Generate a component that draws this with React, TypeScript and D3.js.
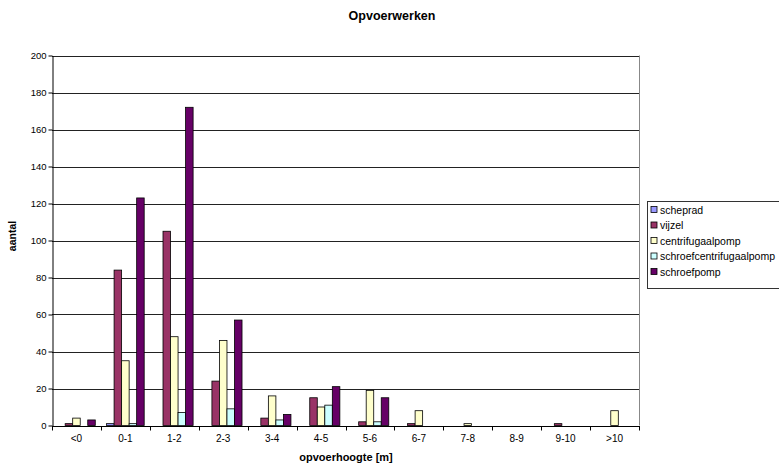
import { useRef, useEffect } from "react";
import * as d3 from "d3";

const categories = ["<0", "0-1", "1-2", "2-3", "3-4", "4-5", "5-6", "6-7", "7-8", "8-9", "9-10", ">10"];
const seriesNames = ["scheprad", "vijzel", "centrifugaalpomp", "schroefcentrifugaalpomp", "schroefpomp"];
const scheprad = [0, 1, 0, 0, 0, 0, 0, 0, 0, 0, 0, 0];
const vijzel = [1, 84, 105, 24, 4, 15, 2, 1, 0, 0, 1, 0];
const centrifugaalpomp = [4, 35, 48, 46, 16, 10, 19, 8, 1, 0, 0, 8];
const schroefcentrifugaalpomp = [0, 1, 7, 9, 3, 11, 2, 0, 0, 0, 0, 0];
const schroefpomp = [3, 123, 172, 57, 6, 21, 15, 0, 0, 0, 0, 0];
const colors = ["#9999ff", "#993366", "#ffffcc", "#ccffff", "#660066"];
const yTicks = [0, 20, 40, 60, 80, 100, 120, 140, 160, 180, 200];

const W = 779;
const H = 468;
const margin = { top: 55.5, right: 140, bottom: 42, left: 52 };

const App = () => {
  const ref = useRef<SVGSVGElement>(null);

  useEffect(() => {
    if (!ref.current) return;
    const svg = d3.select(ref.current);
    svg.selectAll("*").remove();

    const series = [scheprad, vijzel, centrifugaalpomp, schroefcentrifugaalpomp, schroefpomp];
    const font = "Liberation Sans, Arial, sans-serif";

    const x = d3
      .scaleBand()
      .domain(categories)
      .range([margin.left, W - margin.right])
      .padding(0);
    const y = d3
      .scaleLinear()
      .domain([0, 200])
      .range([H - margin.bottom - 0.5, margin.top]);

    // excel gap width 150%: 5 bars + 1.5 bar widths of gap
    const barW = x.bandwidth() / 6.5;
    const offset = barW * 0.75;

    // gridlines
    svg
      .append("g")
      .selectAll("line")
      .data(yTicks.slice(1))
      .enter()
      .append("line")
      .attr("x1", margin.left)
      .attr("x2", W - margin.right)
      .attr("y1", (d) => Math.round(y(d)) + 0.5)
      .attr("y2", (d) => Math.round(y(d)) + 0.5)
      .attr("stroke", "#222");

    // right border
    svg
      .append("line")
      .attr("x1", W - margin.right + 0.5)
      .attr("x2", W - margin.right + 0.5)
      .attr("y1", y(200))
      .attr("y2", y(0))
      .attr("stroke", "#888");

    // bars
    series.forEach((vals, si) => {
      const pts = vals.map((v, i) => ({ v, c: categories[i] })).filter((d) => d.v > 0);
      svg
        .append("g")
        .selectAll("rect")
        .data(pts)
        .enter()
        .append("rect")
        .attr("x", (d) => x(d.c)! + offset + si * barW)
        .attr("y", (d) => y(d.v))
        .attr("width", barW)
        .attr("height", (d) => y(0) - y(d.v))
        .attr("fill", colors[si])
        .attr("stroke", "#000")
        .attr("stroke-width", 0.8);
    });

    // y axis
    const yAxis = svg
      .append("g")
      .attr("transform", `translate(${margin.left + 0.5},0)`)
      .call(d3.axisLeft(y).tickValues(yTicks).tickSize(4).tickSizeOuter(0));
    yAxis.select(".domain").attr("stroke", "#000");
    yAxis
      .selectAll("text")
      .attr("font-family", font)
      .attr("font-size", 9.5)
      .attr("fill", "#000")
      .attr("x", -6);

    // x axis, ticks at category boundaries
    const xAxis = svg.append("g").attr("transform", `translate(0,${Math.round(y(0)) + 0.5})`);
    xAxis
      .append("line")
      .attr("x1", margin.left)
      .attr("x2", W - margin.right + 1)
      .attr("stroke", "#000");
    xAxis
      .selectAll("line.tk")
      .data(d3.range(categories.length + 1))
      .enter()
      .append("line")
      .attr("class", "tk")
      .attr("x1", (i) => Math.round(margin.left + i * x.bandwidth()) + 0.5)
      .attr("x2", (i) => Math.round(margin.left + i * x.bandwidth()) + 0.5)
      .attr("y1", 0)
      .attr("y2", 4)
      .attr("stroke", "#000");
    xAxis
      .selectAll("text")
      .data(categories)
      .enter()
      .append("text")
      .attr("x", (d) => x(d)! + x.bandwidth() / 2)
      .attr("y", 15)
      .attr("text-anchor", "middle")
      .attr("font-family", font)
      .attr("font-size", 10)
      .text((d) => d);

    // title
    svg
      .append("text")
      .attr("x", 392)
      .attr("y", 20)
      .attr("text-anchor", "middle")
      .attr("font-family", font)
      .attr("font-size", 12.5)
      .attr("font-weight", "bold")
      .text("Opvoerwerken");

    // axis titles
    svg
      .append("text")
      .attr("x", 346)
      .attr("y", 461)
      .attr("text-anchor", "middle")
      .attr("font-family", font)
      .attr("font-size", 11)
      .attr("font-weight", "bold")
      .text("opvoerhoogte [m]");
    svg
      .append("text")
      .attr("transform", `translate(16,236) rotate(-90)`)
      .attr("text-anchor", "middle")
      .attr("font-family", font)
      .attr("font-size", 10.5)
      .attr("font-weight", "bold")
      .text("aantal");

    // legend
    const lg = svg.append("g").attr("transform", "translate(647.5,201.5)");
    lg.append("rect")
      .attr("width", 140)
      .attr("height", 87)
      .attr("fill", "#fff")
      .attr("stroke", "#333");
    seriesNames.forEach((name, i) => {
      const row = lg.append("g").attr("transform", `translate(3.5,${5 + i * 15.5})`);
      row
        .append("rect")
        .attr("width", 6)
        .attr("height", 6)
        .attr("fill", colors[i])
        .attr("stroke", "#000")
        .attr("stroke-width", 0.8);
      row
        .append("text")
        .attr("x", 9)
        .attr("y", 7)
        .attr("font-family", font)
        .attr("font-size", 10.5)
        .text(name);
    });
  }, []);

  return (
    <svg
      ref={ref}
      width={W}
      height={H}
      style={{ position: "absolute", left: 0, top: 0, background: "#fff" }}
    />
  );
};

export default App;
